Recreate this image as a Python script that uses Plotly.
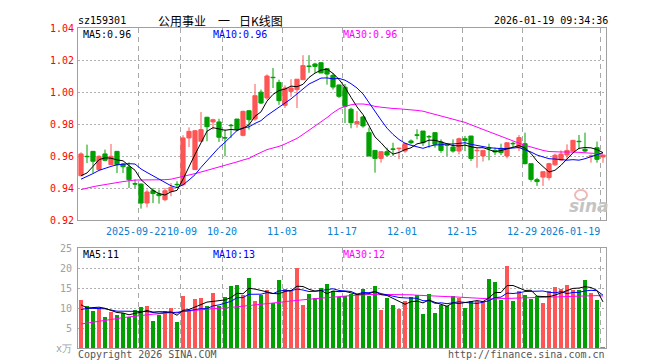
import plotly.graph_objects as go

# ---------------- data ----------------
dates = [
    "2025-09-08", "2025-09-09", "2025-09-10", "2025-09-11", "2025-09-12",
    "2025-09-15", "2025-09-16", "2025-09-17", "2025-09-18", "2025-09-19",
    "2025-09-22", "2025-09-23", "2025-09-24", "2025-09-25", "2025-09-26",
    "2025-09-29", "2025-09-30", "2025-10-09", "2025-10-10",
    "2025-10-13", "2025-10-14", "2025-10-15", "2025-10-16", "2025-10-17",
    "2025-10-20", "2025-10-21", "2025-10-22", "2025-10-23", "2025-10-24",
    "2025-10-27", "2025-10-28", "2025-10-29", "2025-10-30", "2025-10-31",
    "2025-11-03", "2025-11-04", "2025-11-05", "2025-11-06", "2025-11-07",
    "2025-11-10", "2025-11-11", "2025-11-12", "2025-11-13", "2025-11-14",
    "2025-11-17", "2025-11-18", "2025-11-19", "2025-11-20", "2025-11-21",
    "2025-11-24", "2025-11-25", "2025-11-26", "2025-11-27", "2025-11-28",
    "2025-12-01", "2025-12-02", "2025-12-03", "2025-12-04", "2025-12-05",
    "2025-12-08", "2025-12-09", "2025-12-10", "2025-12-11", "2025-12-12",
    "2025-12-15", "2025-12-16", "2025-12-17", "2025-12-18", "2025-12-19",
    "2025-12-22", "2025-12-23", "2025-12-24", "2025-12-25", "2025-12-26",
    "2025-12-29", "2025-12-30", "2025-12-31",
    "2026-01-05", "2026-01-06", "2026-01-07", "2026-01-08", "2026-01-09",
    "2026-01-12", "2026-01-13", "2026-01-14", "2026-01-15", "2026-01-16",
    "2026-01-19",
]

open_ = [
    0.9477, 0.9598, 0.9629, 0.9515, 0.9613, 0.9546, 0.9629, 0.9550, 0.9531, 0.9427,
    0.9425, 0.9306, 0.9383, 0.9363, 0.9327, 0.9379, 0.9423, 0.9421, 0.9713, 0.9515,
    0.9692, 0.9842, 0.9813, 0.9813, 0.9715, 0.9792, 0.9831, 0.9729, 0.9883, 0.9831,
    0.9999, 0.9963, 1.0092, 1.0060, 0.9917, 1.0004, 1.0015, 1.0077, 1.0162, 1.0175,
    1.0183, 1.0146, 1.0104, 1.0044, 1.0030, 0.9892, 0.9802, 0.9844, 0.9746, 0.9635,
    0.9585, 0.9627, 0.9644, 0.9646, 0.9631, 0.9694, 0.9732, 0.9756, 0.9722, 0.9746,
    0.9688, 0.9669, 0.9656, 0.9631, 0.9708, 0.9725, 0.9633, 0.9600, 0.9650, 0.9635,
    0.9648, 0.9600, 0.9679, 0.9652, 0.9677, 0.9552, 0.9452, 0.9468, 0.9465, 0.9545,
    0.9575, 0.9606, 0.9631, 0.9692, 0.9642, 0.9598, 0.9652, 0.9594,
]
high = [
    0.9623, 0.9671, 0.9631, 0.9604, 0.9640, 0.9675, 0.9631, 0.9556, 0.9560, 0.9452,
    0.9427, 0.9390, 0.9400, 0.9390, 0.9400, 0.9431, 0.9442, 0.9730, 0.9779, 0.9762,
    0.9875, 0.9845, 0.9833, 0.9833, 0.9765, 0.9800, 0.9831, 0.9883, 0.9885, 1.0050,
    1.0015, 1.0110, 1.0150, 1.0077, 1.0042, 1.0080, 1.0080, 1.0230, 1.0230, 1.0183,
    1.0185, 1.0146, 1.0119, 1.0046, 1.0050, 0.9902, 0.9881, 0.9850, 0.9777, 0.9635,
    0.9627, 0.9652, 0.9683, 0.9652, 0.9683, 0.9704, 0.9767, 0.9756, 0.9731, 0.9746,
    0.9704, 0.9673, 0.9704, 0.9715, 0.9725, 0.9725, 0.9652, 0.9635, 0.9677, 0.9652,
    0.9677, 0.9683, 0.9690, 0.9731, 0.9746, 0.9552, 0.9463, 0.9502, 0.9558, 0.9615,
    0.9635, 0.9673, 0.9698, 0.9731, 0.9746, 0.9610, 0.9690, 0.9606,
]
low = [
    0.9473, 0.9556, 0.9494, 0.9510, 0.9567, 0.9542, 0.9494, 0.9494, 0.9400, 0.9400,
    0.9271, 0.9279, 0.9306, 0.9302, 0.9317, 0.9348, 0.9400, 0.9410, 0.9656, 0.9515,
    0.9690, 0.9692, 0.9765, 0.9688, 0.9598, 0.9713, 0.9754, 0.9723, 0.9765, 0.9820,
    0.9925, 0.9950, 1.0025, 0.9920, 0.9900, 0.9970, 0.9900, 1.0077, 1.0120, 1.0120,
    1.0119, 1.0046, 1.0015, 0.9963, 0.9806, 0.9773, 0.9777, 0.9777, 0.9600, 0.9496,
    0.9558, 0.9598, 0.9600, 0.9580, 0.9620, 0.9673, 0.9704, 0.9663, 0.9652, 0.9652,
    0.9620, 0.9600, 0.9621, 0.9610, 0.9631, 0.9569, 0.9527, 0.9565, 0.9573, 0.9606,
    0.9606, 0.9585, 0.9652, 0.9631, 0.9548, 0.9440, 0.9413, 0.9413, 0.9448, 0.9538,
    0.9570, 0.9579, 0.9621, 0.9642, 0.9621, 0.9558, 0.9558, 0.9558,
]
close = [
    0.9613, 0.9596, 0.9567, 0.9598, 0.9573, 0.9598, 0.9546, 0.9533, 0.9452, 0.9425,
    0.9306, 0.9375, 0.9365, 0.9352, 0.9383, 0.9404, 0.9421, 0.9713, 0.9754, 0.9758,
    0.9765, 0.9783, 0.9827, 0.9717, 0.9713, 0.9790, 0.9765, 0.9879, 0.9827, 0.9977,
    0.9931, 1.0100, 1.0090, 0.9946, 1.0025, 1.0025, 1.0080, 1.0165, 1.0160, 1.0160,
    1.0119, 1.0112, 1.0031, 0.9973, 0.9910, 0.9808, 0.9815, 0.9788, 0.9600, 0.9585,
    0.9627, 0.9606, 0.9642, 0.9648, 0.9677, 0.9683, 0.9730, 0.9683, 0.9720, 0.9673,
    0.9635, 0.9667, 0.9631, 0.9708, 0.9698, 0.9585, 0.9635, 0.9635, 0.9648, 0.9625,
    0.9621, 0.9683, 0.9677, 0.9715, 0.9552, 0.9454, 0.9440, 0.9502, 0.9552, 0.9605,
    0.9612, 0.9635, 0.9698, 0.9690, 0.9631, 0.9600, 0.9579, 0.9606,
]
ma5 = [
    0.9477, 0.9494, 0.9535, 0.9577, 0.9589, 0.9586, 0.9576, 0.9570, 0.9540, 0.9511,
    0.9452, 0.9418, 0.9385, 0.9365, 0.9356, 0.9376, 0.9385, 0.9455, 0.9535, 0.9610,
    0.9682, 0.9755, 0.9777, 0.9770, 0.9761, 0.9766, 0.9762, 0.9773, 0.9795, 0.9848,
    0.9876, 0.9943, 0.9985, 1.0009, 1.0018, 1.0037, 1.0033, 1.0048, 1.0091, 1.0118,
    1.0137, 1.0143, 1.0116, 1.0079, 1.0029, 0.9967, 0.9907, 0.9859, 0.9784, 0.9719,
    0.9683, 0.9641, 0.9612, 0.9622, 0.9640, 0.9651, 0.9676, 0.9684, 0.9699, 0.9698,
    0.9688, 0.9676, 0.9665, 0.9663, 0.9668, 0.9658, 0.9651, 0.9652, 0.9640, 0.9627,
    0.9634, 0.9643, 0.9652, 0.9665, 0.9650, 0.9616, 0.9568, 0.9533, 0.9500, 0.9511,
    0.9542, 0.9581, 0.9620, 0.9648, 0.9653, 0.9651, 0.9640, 0.9621,
]
ma10 = [
    0.9455, 0.9470, 0.9490, 0.9510, 0.9525, 0.9535, 0.9545, 0.9550, 0.9552, 0.9550,
    0.9519, 0.9497, 0.9477, 0.9453, 0.9434, 0.9414, 0.9402, 0.9420, 0.9450, 0.9483,
    0.9529, 0.9570, 0.9616, 0.9653, 0.9686, 0.9724, 0.9759, 0.9775, 0.9782, 0.9804,
    0.9821, 0.9853, 0.9879, 0.9902, 0.9933, 0.9957, 0.9988, 1.0017, 1.0050, 1.0068,
    1.0087, 1.0088, 1.0082, 1.0085, 1.0074, 1.0052, 1.0025, 0.9988, 0.9932, 0.9874,
    0.9825, 0.9774, 0.9735, 0.9703, 0.9680, 0.9667, 0.9659, 0.9648, 0.9660, 0.9669,
    0.9670, 0.9676, 0.9675, 0.9681, 0.9683, 0.9673, 0.9664, 0.9659, 0.9652, 0.9647,
    0.9646, 0.9647, 0.9652, 0.9653, 0.9638, 0.9625, 0.9606, 0.9592, 0.9583, 0.9581,
    0.9579, 0.9574, 0.9577, 0.9574, 0.9583, 0.9597, 0.9610, 0.9621,
]
ma30 = [
    0.9390, 0.9400, 0.9408, 0.9415, 0.9422, 0.9428, 0.9435, 0.9440, 0.9445, 0.9450,
    0.9450, 0.9450, 0.9450, 0.9450, 0.9452, 0.9455, 0.9463, 0.9475, 0.9482, 0.9490,
    0.9500, 0.9510, 0.9520, 0.9530, 0.9540, 0.9550, 0.9563, 0.9575, 0.9585, 0.9605,
    0.9625, 0.9640, 0.9650, 0.9660, 0.9675, 0.9690, 0.9710, 0.9735, 0.9760, 0.9790,
    0.9815, 0.9840, 0.9870, 0.9895, 0.9910, 0.9920, 0.9925, 0.9925, 0.9920, 0.9910,
    0.9905, 0.9900, 0.9897, 0.9895, 0.9893, 0.9890, 0.9885, 0.9880, 0.9870, 0.9860,
    0.9848, 0.9838, 0.9828, 0.9820, 0.9810, 0.9795, 0.9780, 0.9765, 0.9750, 0.9735,
    0.9720, 0.9705, 0.9692, 0.9680, 0.9667, 0.9655, 0.9645, 0.9635, 0.9628, 0.9625,
    0.9625, 0.9625, 0.9625, 0.9623, 0.9620, 0.9618, 0.9615, 0.9613,
]
volume = [
    12.08, 10.50, 9.33, 10.00, 7.75, 9.00, 8.25, 8.75, 7.75, 9.58,
    10.25, 10.50, 6.83, 8.25, 9.25, 10.08, 6.50, 13.00, 9.25, 12.25,
    12.50, 10.42, 13.83, 10.58, 12.75, 15.50, 15.75, 13.17, 17.50, 11.75,
    13.25, 14.42, 11.25, 17.08, 14.75, 14.17, 20.00, 10.83, 13.58, 12.50,
    15.00, 16.00, 14.17, 12.75, 12.92, 13.50, 13.58, 14.83, 13.08, 15.58,
    9.58, 12.58, 10.83, 9.83, 11.83, 12.83, 13.33, 8.58, 13.50, 8.83,
    10.83, 10.42, 12.92, 12.58, 10.08, 11.83, 11.83, 11.67, 17.33, 16.58,
    12.00, 20.50, 11.75, 14.33, 13.33, 12.25, 13.08, 11.33, 14.17, 15.25,
    14.83, 15.67, 14.58, 14.58, 17.00, 13.75, 12.00, 0.25,
]
vol_ma5 = [
    10.80, 10.00, 10.10, 10.20, 9.93, 9.32, 8.87, 8.75, 8.30, 8.67,
    8.92, 9.37, 8.98, 9.08, 9.02, 8.98, 8.18, 9.42, 9.62, 10.22,
    10.70, 11.48, 11.65, 11.92, 12.02, 12.62, 13.68, 13.55, 14.93, 14.73,
    14.28, 14.02, 13.63, 13.55, 14.15, 14.33, 15.45, 15.37, 14.67, 14.22,
    14.38, 13.58, 14.25, 14.08, 14.17, 13.87, 13.38, 13.52, 13.58, 14.11,
    13.33, 13.13, 12.33, 11.68, 10.93, 11.58, 11.73, 11.28, 12.01, 11.41,
    11.01, 10.43, 11.30, 11.12, 11.37, 11.57, 11.85, 11.60, 12.55, 13.85,
    13.88, 15.62, 15.63, 15.03, 14.38, 14.43, 12.95, 12.86, 12.83, 13.22,
    13.73, 14.25, 14.90, 14.98, 15.33, 15.12, 14.38, 11.52,
]
vol_ma10 = [
    9.60, 9.90, 9.90, 9.90, 9.80, 9.50, 9.20, 9.20, 9.20, 9.30,
    9.12, 9.12, 8.87, 8.69, 8.84, 8.95, 8.77, 9.20, 9.35, 9.62,
    9.84, 9.83, 10.53, 10.77, 11.12, 11.66, 12.58, 12.60, 13.43, 13.38,
    13.45, 13.85, 13.59, 14.24, 14.44, 14.31, 14.73, 14.50, 14.11, 14.18,
    14.36, 14.52, 14.81, 14.38, 14.19, 14.13, 13.48, 13.88, 13.83, 14.14,
    13.60, 13.26, 12.92, 12.63, 12.52, 12.46, 12.43, 11.81, 11.85, 11.17,
    11.30, 11.08, 11.29, 11.57, 11.39, 11.29, 11.14, 11.45, 11.83, 12.61,
    12.72, 13.73, 13.62, 13.79, 14.12, 14.16, 14.28, 14.25, 13.93, 13.80,
    14.08, 13.60, 13.88, 13.91, 14.27, 14.42, 14.32, 13.21,
]
vol_ma30 = [
    6.00, 6.20, 6.45, 6.70, 6.90, 7.10, 7.35, 7.60, 7.80, 7.95,
    8.10, 8.30, 8.45, 8.55, 8.70, 8.85, 9.00, 9.10, 9.20, 9.33,
    9.50, 9.70, 9.85, 9.95, 10.00, 10.15, 10.30, 10.45, 10.55, 10.70,
    10.80, 11.00, 11.20, 11.40, 11.60, 11.80, 11.95, 12.05, 12.20, 12.35,
    12.50, 12.60, 12.75, 12.85, 13.00, 13.10, 13.20, 13.30, 13.35, 13.40,
    13.40, 13.40, 13.40, 13.40, 13.35, 13.30, 13.20, 13.10, 13.00, 12.95,
    12.90, 12.85, 12.80, 12.70, 12.60, 12.45, 12.35, 12.30, 12.30, 12.30,
    12.35, 12.40, 12.45, 12.50, 12.55, 12.60, 12.65, 12.70, 12.75, 12.80,
    12.85, 12.90, 12.95, 13.00, 13.05, 13.10, 13.10, 13.00,
]
tick_dates = ["2025-09-22", "2025-10-09", "2025-10-20", "2025-11-03", "2025-11-17",
              "2025-12-01", "2025-12-15", "2025-12-29", "2026-01-19"]
tick_labels = ["2025-09-22", "10-09", "10-20", "11-03", "11-17",
               "12-01", "12-15", "12-29", "2026-01-19"]
price_ticks = [0.92, 0.94, 0.96, 0.98, 1.00, 1.02, 1.04]
vol_ticks = [0, 5, 10, 15, 20, 25]
vol_tick_labels = ["x万", "5", "10", "15", "20", "25"]

# ---------------- styling ----------------
RED = "#ff5555"
GREEN = "#00a000"
BLUE = "#0000ff"
MAGENTA = "#ff00ff"
FRAME = "#a0a0a0"
GRID = "#b0b0b0"
MONO = "DejaVu Sans Mono, Liberation Mono, monospace"
CJK = "Noto Sans CJK SC, sans-serif"

W, H = 660, 360
L, R, T, B = 70, 62, 20, 20
PW, PH = W - L - R, H - T - B


def px(xp):
    return (xp - L) / PW


def py(yp):
    return (H - B - yp) / PH


x = list(range(len(dates)))
tickvals = [dates.index(d) - 0.42 for d in tick_dates]
vol_colors = [RED if c > o else GREEN for o, c in zip(open_, close)]

fig = go.Figure()
fig.add_trace(go.Candlestick(
    x=x, open=open_, high=high, low=low, close=close,
    increasing=dict(line=dict(color=RED, width=1), fillcolor=RED),
    decreasing=dict(line=dict(color=GREEN, width=1), fillcolor=GREEN),
    whiskerwidth=0, xaxis="x", yaxis="y", showlegend=False, hoverinfo="skip",
))
for arr, col in [(ma30, MAGENTA), (ma10, BLUE), (ma5, "#000000")]:
    fig.add_trace(go.Scatter(x=x, y=arr, mode="lines", line=dict(color=col, width=1),
                             xaxis="x", yaxis="y", showlegend=False, hoverinfo="skip"))

fig.add_trace(go.Bar(x=x, y=volume, marker=dict(color=vol_colors, line=dict(width=0)),
                     width=0.83, xaxis="x2", yaxis="y2", showlegend=False, hoverinfo="skip"))
for arr, col in [(vol_ma30, MAGENTA), (vol_ma10, BLUE), (vol_ma5, "#000000")]:
    fig.add_trace(go.Scatter(x=x, y=arr, mode="lines", line=dict(color=col, width=1),
                             xaxis="x2", yaxis="y2", showlegend=False, hoverinfo="skip"))

axis_common = dict(showline=True, linecolor=FRAME, linewidth=1, mirror=True,
                   zeroline=False, showgrid=True, gridwidth=1, automargin=False)

fig.update_layout(
    width=W, height=H, margin=dict(l=L, r=R, t=T, b=B, autoexpand=False),
    paper_bgcolor="white", plot_bgcolor="white",
    boxgap=0.3, boxgroupgap=0, bargap=0,
    xaxis=dict(**axis_common, domain=[0, 1], anchor="y", range=[-0.5, 87.5],
               tickmode="array", tickvals=tickvals, showticklabels=False, ticks="",
               gridcolor="#a8a8a8", griddash="5px,4px",
               rangeslider=dict(visible=False)),
    yaxis=dict(**axis_common, domain=[0.4, 1.0], anchor="x", range=[0.92, 1.04],
               tickmode="array", tickvals=price_ticks,
               ticktext=["%.2f" % v for v in price_ticks],
               gridcolor=GRID, griddash="2px,2px",
               ticks="outside", ticklen=1, tickcolor="rgba(0,0,0,0)",
               tickfont=dict(family=MONO, size=10, color="#ff0000")),
    xaxis2=dict(**axis_common, domain=[0, 1], anchor="y2", range=[-0.5, 87.5],
                matches="x", tickmode="array", tickvals=tickvals, showticklabels=False,
                gridcolor="#a8a8a8", griddash="5px,4px", ticks=""),
    yaxis2=dict(**axis_common, domain=[0, 100 / PH], anchor="x2", range=[0, 25],
                tickmode="array", tickvals=vol_ticks, ticktext=vol_tick_labels,
                gridcolor=GRID, griddash="2px,2px",
                ticks="outside", ticklen=3, tickcolor="rgba(0,0,0,0)",
                tickfont=dict(family=MONO, size=10, color="#a0a0a0")),
)


def note(text, xpix, ypix, color="#000000", size=10, family=MONO, xanchor="left", **kw):
    fig.add_annotation(text=text, x=px(xpix), y=py(ypix), xref="paper", yref="paper",
                       showarrow=False, xanchor=xanchor, yanchor="middle",
                       font=dict(family=family, size=size, color=color), borderpad=0, **kw)


# date labels under the price panel, placed on the x axis scale
n_ticks = len(tick_labels)
for k, (tv, lab) in enumerate(zip(tickvals, tick_labels)):
    if k == n_ticks - 1:
        anchor, shift = "right", 1
    elif k == 0:
        anchor, shift = "center", -2
    elif k == 1:
        anchor, shift = "center", 2
    else:
        anchor, shift = "center", 0
    fig.add_annotation(text=lab, x=tv, xref="x", y=py(223), yref="paper",
                       showarrow=False, xanchor=anchor, yanchor="middle", xshift=shift,
                       font=dict(family=MONO, size=10, color="#0a80d0"), borderpad=0)

# header
note("sz159301", 69, 13)
note("公用事业", 149, 13, size=12, family=CJK)
note("一", 209, 13, size=12, family=CJK)
note("日K线图", 230, 13, size=12, family=CJK)
note("2026-01-19 09:34:36", 485, 13)
# price legend
note("MA5:0.96", 74, 26)
note("MA10:0.96", 204, 26, color=BLUE)
note("MA30:0.96", 334, 26, color=MAGENTA)
# volume legend
note("MA5:11", 74, 246.5)
note("MA10:13", 203.5, 246.5, color=BLUE)
note("MA30:12", 334, 246.5, color=MAGENTA)
# footer
note("Copyright 2026 SINA.COM", 69, 346, color="#555555")
note("http://finance.sina.com.cn", 598, 346, color="#555555", xanchor="right")
# watermark
note("<b><i>sina</i></b>", 581, 198, color="#c4c4c4", size=17,
     family="DejaVu Sans, sans-serif", xanchor="center")
fig.add_shape(type="circle", xref="paper", yref="paper",
              x0=px(567), x1=px(579), y0=py(192), y1=py(182),
              line=dict(color="#f2b8b8", width=2))

fig.write_html("out.html")
